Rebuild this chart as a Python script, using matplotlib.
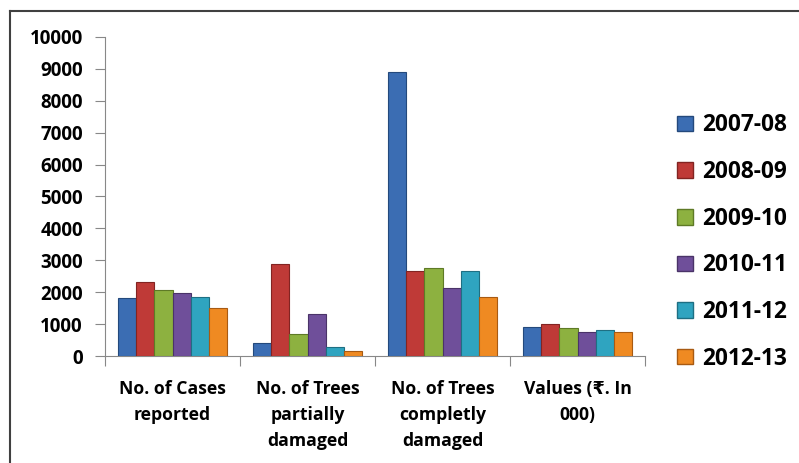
import matplotlib
matplotlib.use("Agg")
import matplotlib.pyplot as plt
import numpy as np
from matplotlib.patches import Patch
from matplotlib.lines import Line2D

categories = ["No. of Cases\nreported", "No. of Trees\npartially\ndamaged",
              "No. of Trees\ncompletly\ndamaged", "Values (₹. In\n000)"]
years = ["2007-08", "2008-09", "2009-10", "2010-11", "2011-12", "2012-13"]
v2007 = [1810, 400, 8900, 900]
v2008 = [2310, 2875, 2650, 1000]
v2009 = [2060, 690, 2750, 875]
v2010 = [1960, 1310, 2125, 750]
v2011 = [1850, 280, 2650, 810]
v2012 = [1500, 160, 1850, 750]
series = [v2007, v2008, v2009, v2010, v2011, v2012]
colors = ["#3b6db3", "#bf3a37", "#8db140", "#6f4f9a", "#2fa4c0", "#ef8a22"]
edges = ["#24497c", "#822422", "#5e7a26", "#4a3368", "#1e6f83", "#a85a12"]

fam = ['Open Sans', 'DejaVu Sans']
plt.rcParams['font.family'] = fam
plt.rcParams['font.weight'] = 'bold'

fig = plt.figure(figsize=(7.99, 4.63), dpi=100)
ax = fig.add_axes([105/799, 1-356/463, 540/799, (356-37)/463])

x = np.arange(len(categories))
w = 0.135
for i, (vals, c, e) in enumerate(zip(series, colors, edges)):
    ax.bar(x + (i - 2.5) * w, vals, width=w, color=c, edgecolor=e, linewidth=0.8, label=years[i], zorder=3)

ax.set_xlim(-0.5, 3.5)
ax.set_ylim(0, 10000)
ax.set_yticks(np.arange(0, 10001, 1000))
ax.set_yticklabels([str(v) for v in range(0, 10001, 1000)], fontsize=13.5, fontweight='bold')
ax.set_xticks([-0.5, 0.5, 1.5, 2.5, 3.5])
ax.set_xticklabels([])
ax.set_xticks(x, minor=True)
ax.set_xticklabels(categories, minor=True, fontsize=12.7, fontweight='bold', linespacing=1.58)
ax.tick_params(axis='x', which='minor', length=0, pad=17)
ax.tick_params(axis='x', which='major', length=7, color='#888888')
ax.tick_params(axis='y', length=7, color='#888888', pad=9)
for s in ['top', 'right']:
    ax.spines[s].set_visible(False)
for s in ['left', 'bottom']:
    ax.spines[s].set_color('#888888')

handles = [Patch(facecolor=c, edgecolor=e) for c, e in zip(colors, edges)]
fig.legend(handles, years, loc='center left', bbox_to_anchor=(657/799, 1-242/463),
           frameon=False, prop={'family': fam, 'weight': 'bold', 'size': 16.3},
           labelspacing=1.0, handlelength=0.68, handleheight=0.68, handletextpad=0.4)

# outer frame (top and left visible)
fig.add_artist(Line2D([10/799, 1.0], [1-11/463, 1-11/463], transform=fig.transFigure, color='#404040', lw=1.5))
fig.add_artist(Line2D([10/799, 10/799], [0, 1-11/463], transform=fig.transFigure, color='#404040', lw=1.5))

fig.savefig("out.png", dpi=100)
